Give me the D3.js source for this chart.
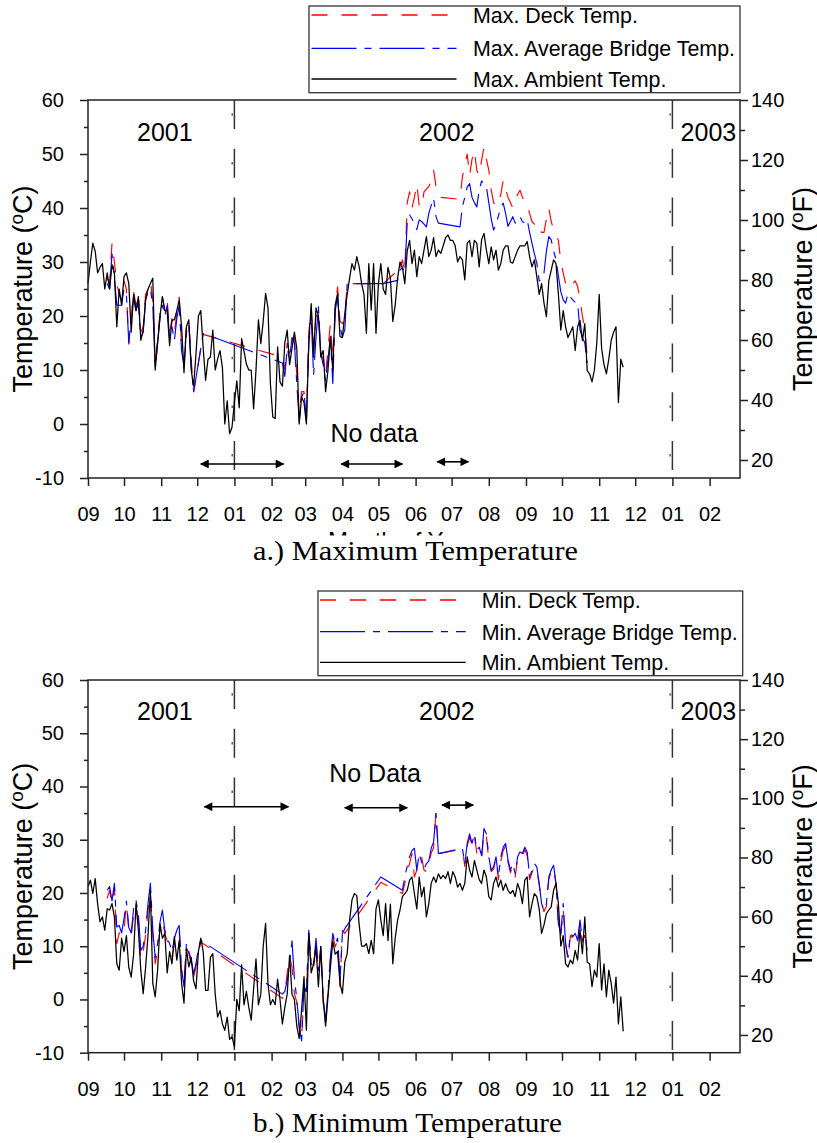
<!DOCTYPE html>
<html>
<head>
<meta charset="utf-8">
<script src="https://cdn.jsdelivr.net/npm/d3@7"></script>
<style>
  html, body { margin: 0; padding: 0; background: #fff; }
  svg { display: block; }
  .tick text { font-family: "Liberation Sans", Arial, sans-serif; font-size: 20px; fill: #000; }
  .tick line { stroke: #222; stroke-width: 1.5; }
  .label { font-family: "Liberation Sans", Arial, sans-serif; fill: #000; }
  .caption { font-family: "Liberation Serif", "Times New Roman", serif; fill: #000; }
</style>
</head>
<body>
<div id="chart"></div>
<script>
// --- 1. Data (one reading every two days, starting 1 Sep 2001) ---
const startDate = new Date(2001, 8, 1);
const stepDays = 2;

// a.) daily maximum temperatures, degC
const maxAmbient = [
  26, 30, 33.5, 32, 28, 29, 29.7, 25, 28, 25,            // d0
  29.5, 28, 18, 25, 22, 27.3, 28, 26, 17, 24,            // d20
  21, 23.6, 15.5, 17.4, 23, 25, 26, 27, 10, 15,          // d40
  20, 23.6, 21, 21, 14.5, 19.3, 19.3, 21, 23, 18,        // d60
  9.5, 18, 19.3, 10, 7, 13, 20, 21, 14, 8.1,             // d80
  12, 12.4, 17.4, 10, 12, 13.6, 10.5, 0, 4.3, -1.8,      // d100
  -0.6, 4, 8, 3, 15.8, 13.5, 11.1, 10, 10, 2.8,          // d120
  10, 19.3, 14.9, 19, 24.2, 21.5, 7.5, 1.3, 1, 14.3,     // d140
  7.8, 7, 15, 17.4, 11, 14, 17, 14, 0, 5,                // d160
  4, 0, 15, 22.3, 12.4, 21.5, 20, 12.4, 13.6, 6,         // d180
  10, 16, 10, 22, 24.2, 16.2, 16, 20.5, 24, 27,          // d200
  29.7, 28.5, 31, 29.1, 26, 24, 16.8, 29.7, 21.1, 29.7,  // d220
  16.8, 26, 29.7, 25, 24, 29, 27, 19, 22, 27,            // d240
  30, 29, 26, 32, 34, 29.7, 32.2, 27.3, 31, 29.7,        // d260
  32.2, 34.7, 31, 32.2, 34.5, 31, 32.2, 31.6, 33, 34.5,  // d280
  35, 34, 34, 33, 30, 31, 30.4, 26.7, 33.5, 34,          // d300
  31, 34, 33.5, 29.1, 34.1, 35.3, 32.2, 29.7, 32.8, 30.4, // d320
  32.2, 28.5, 29.7, 32.2, 33, 33, 30, 29.8, 31, 32.2,    // d340
  33, 33, 33, 33.8, 31, 29.1, 30.4, 27.3, 24, 26,        // d360
  22.4, 19.9, 26.5, 28.5, 30.4, 29.7, 24, 17.4, 21, 18,  // d380
  16, 17, 18, 13.6, 18, 19.2, 15.5, 18.6, 9.9, 9.3,      // d400
  7.8, 10, 15, 24, 14, 11, 9.3, 12, 15.5, 17,            // d420
  18, 4, 12, 10.5                                        // d440
];
const maxDeck = [
  null, null, null, null, null, null, null, null, 27, 26,
  33.5, 30, 26, 24, 23, 26.5, 25, 14.8, 20, 24.5,
  22, 24, 17, 18, 24, 25, 26.5, 23, 10.5, 16,
  20.5, 23.5, 21, 23, 17, 19.5, 17, 20.5, 23.5, 14,
  11, 18.5, 19, 12, 6, null, null, null, 16.6, null,
  null, null, null, null, null, null, null, null, null, null,
  null, null, null, null, null, null, null, null, null, null,
  null, null, null, null, null, null, null, null, null, null,
  null, 12.4, 10, 15, 13, 15.5, 16, 9, 2, 6,
  6, 1, 17, 21.5, 14, 20, 21, 13, 12, 9,
  14, 18.6, 12, 21.5, 25.4, 19, 18.6, 20, 26, null,
  null, null, null, null, null, null, null, null, null, null,
  null, null, null, 26, null, null, null, null, 28, 27.3,
  29, 30.4, 28, 41, 43, 40, 42, 44.5, 40.5, 40,
  43, 43.5, 44, 45, 47, 44, 42, null, null, null,
  null, null, null, null, null, 41.6, 45.8, 48, 50, 46,
  49, 50.7, 47, 46, 48.8, 51.3, 49, 47, 43.3, 41,
  40.2, 41, 42.5, 45.2, 43.5, 42, 41, 40, 41.5, 42.5,
  43.3, 42, 41, 41, 39, 37.5, 37, 37.5, 36, 35.5,
  35.5, 38, 40, 37.5, 36, 35, 34, 30, 28, 26,
  27, 26.7, 26, 26.5, 25.5, 23, 20, 17.4, 12.5
];
const maxBridge = [
  null, null, null, null, null, null, null, null, 26, 25,
  31.5, 27, 22, 22, 22, 25, 24, 15, 20, 23.5,
  21, 22.5, 16, 17, 23, 24.5, 25, 22, 10.5, 15,
  19.5, 22, 20, 22, 16, 18, 15.5, 19.5, 22, 13.5,
  11, 17, 18.5, 11, 5.8, null, null, null, 16.8, null,
  null, null, null, null, null, null, null, null, null, null,
  null, null, null, null, null, null, null, null, null, null,
  null, null, null, null, null, null, null, null, null, null,
  null, 11.3, 8.8, 14, 12, 16, 15, 7.5, 0.5, 5,
  6, 0.5, 15, 20, 9, 16, 21.7, 13, 11, 8,
  12, 16.2, 7.5, 21, 23.6, 18, 16.2, 17.4, 26, null,
  null, null, null, null, null, null, null, null, null, null,
  null, null, null, 26, null, null, null, null, null, 26.6,
  28.5, 29, 28, 37.2, 38.7, 38, 37, 36, 37.8, 37.5,
  37, 36.5, 39, 40.5, 41.8, 38.4, 37.2, null, null, null,
  null, null, null, null, null, 36.5, 40.2, 42, 43.9, 44.5,
  42, 41, 40.2, 43.3, 45, 44.5, 43.9, 41, 38, 35.9,
  37, 38.5, 40.2, 40.9, 39, 36.6, 37.5, 38.4, 37.2, 38,
  38.4, 37.5, 37.2, 37.8, 35.5, 33.5, 31.5, 29.8, 26.5, 26.8,
  28, 32, 34.7, 34.1, 32, 30.5, 27.4, 24.5, 23, 22.4,
  24.2, 23.5, 23, 22.5, 22.4, 17.4, 16, 15, 11.3
];

// b.) daily minimum temperatures, degC
const minAmbient = [
  21.2, 22.4, 19.9, 22.7, 18, 14.6, 15.5, 13, 17, 16.8,
  18, 15.5, 6.7, 5.5, 11.5, 9, 12, 6, 4.2, 8.5,
  18, 13, 5.5, 1.1, 6, 12, 20.5, 3, 0.5, 5.5,
  14.2, 11.5, 12.4, 5, 9, 6.7, 11.8, 7.4, 11.1, 3,
  -0.7, 9.5, 6.1, 7.9, 3.5, 2, 9, 11.5, 9, 1.7,
  1.7, 7.9, 8.6, 1, -3.3, -2.1, -4.6, -5.8, -3.3, -7.5,
  -7, -8.9, 0, -2.1, 6.5, -1, 1.5, -1.5, -3.9, 2,
  7.6, -1, 1, 10, 14.3, 3, -1, 0, -1, 3.8,
  0, -4.6, -1.5, 1, 8.3, 1, 0, -5, -7.3, -2,
  4.3, -5.8, 12.4, 5, 6.7, 9.9, 2.4, 9.9, 0, -5,
  0.5, 6, 11, 8.5, 9, 3, 1.1, 7, 8.6, 14.9,
  18.7, 19.9, 19.5, 14, 10, 10, 10.5, 8.6, 11.1, 8.6,
  17, 18.7, 15, 12, 18, 11.1, 17.9, 6.7, 11.5, 14.9,
  16.8, 19.3, 19.9, 20.5, 22.4, 23, 19.9, 17, 23, 19.3,
  21.1, 15.5, 18, 21.8, 23, 22, 23.6, 22.7, 23.3, 22.7,
  24, 21.8, 24, 23, 21.1, 21.8, 20.5, 21.8, 26.8, 24.3,
  23, 26.1, 24.3, 22.5, 21.8, 24.3, 23, 19.3, 18.7, 21.8,
  23, 21.1, 22.4, 20.5, 21.8, 20.5, 19.9, 20.5, 19.3, 21.8,
  20.5, 18, 22.4, 23, 15.5, 18, 19.9, 19.3, 17, 12.4,
  14, 16.1, 16.8, 17.4, 20.5, 21.8, 18, 10, 12, 6.7,
  6.1, 7.4, 6.7, 9.2, 7.4, 13, 8.6, 15.5, 7, 6.7,
  2.4, 5.5, 4.2, 10.5, 1.8, 6.7, 0.5, 5.5, 3, -0.7,
  4.2, -4.6, 0.5, -6
];
const minDeck = [
  null, null, null, null, null, null, null, null, 19, 20.5,
  18, 21, 10.5, 12.5, 11.8, 13, 18, 13, 11.8, 16,
  17.4, 15, 7.4, 9, 12, 16.8, 19.9, 12, 6.7, 9.2,
  13, 15, 12.4, 11, 9.9, 8, 10.5, 11.8, 13, 5.5,
  3, 9.8, 8.6, 6.7, 4.2, 6.1, 8.6, 10.8, null, null,
  null, null, null, null, null, null, null, null, null, null,
  null, null, null, null, null, null, null, null, null, null,
  null, null, null, null, null, null, null, null, null, null,
  null, 0.2, 1.1, 5, 8, 6.1, 1.1, -0.5, -5.5, -7.6,
  2, 1.1, 12.4, 6.1, 5.5, 11, 4.9, 9.2, -0.7, -4.4,
  1.1, 7.4, 12, 9.9, 11.1, 2.4, 13, 12.4, null, null,
  null, null, null, null, null, null, null, null, null, null,
  null, null, 22, null, null, null, null, null, null, null,
  null, 19.9, 21.8, 24, 25.5, 27.4, 23, 24.3, 26.5, 26.8,
  24.3, 24, 25.5, 27.5, 28.5, 35.2, 27.4, null, null, null,
  null, null, null, null, null, null, 28.2, 25, 28.8, 30.5,
  29, 30.8, 27.5, 28, 26.5, 31.5, 30.6, 26.2, 24, 24.5,
  26.5, 22.5, 26, 28, 28.8, 25.8, 23.8, 25, 23, 26.5,
  27.2, 26.8, 28.2, 27, 22.5, 23.8, 25, 24.5, 21.5, 18,
  16.5, 17.5, 22.5, 24, 24.8, 21.5, 14, 12, 17, 10.5,
  7.5, 12, 11.5, 12, 10.8, 14.5, 10.8, 12, 9
];
const minBridge = [
  null, null, null, null, null, null, null, null, 20.5, 21.2,
  18.5, 21.8, 13.6, 13.9, 12.5, 15.2, 18.5, 13.5, 12.5, 17,
  18.6, 16, 9.2, 10, 13, 18, 21.8, 13, 7.9, 10.5,
  14.5, 16.8, 13, 11.5, 10.5, 9, 11.5, 13, 13.9, 5.5,
  2.4, 10.5, 9, 7.5, 4.8, 6.8, 9.5, 11.1, null, null,
  null, null, null, null, null, null, null, null, null, null,
  null, null, null, null, null, null, null, null, null, null,
  null, null, null, null, null, null, null, null, null, null,
  null, 1.0, 1.5, 3.6, 6.7, 11, 4, 0, -5, -7.8,
  2.5, 1.5, 13, 6.8, 6, 11.5, 5.5, 10, 0, -4,
  1.5, 8, 12.4, 10.4, 11.5, 3.6, 12.4, 13.3, null, null,
  null, null, null, null, null, null, null, null, null, null,
  null, null, 23, null, null, null, null, null, null, null,
  null, 20.5, 23, 25, 26.8, 28, 28.4, 24.3, 27.4, 25.8,
  24.5, 25.5, 26, 28.4, 29.6, 34.9, 27.4, null, null, null,
  null, null, null, null, null, null, 28.4, 25.5, 29.3, 31.1,
  29.3, 31.1, 28, 28.6, 27, 32.1, 31.1, 26.8, 24.3, 24.9,
  26.8, 23, 26.8, 28.6, 29.3, 26.2, 24.3, 25.5, 23.6, 26.8,
  27.7, 27.4, 28.6, 27.7, 23, 24.3, 25.5, 24.9, 21.8, 18,
  16.8, 18, 23, 24.3, 25.2, 21.8, 14.2, 12.4, 18, 10.5,
  7.9, 12.4, 11.8, 12.4, 11.1, 14.9, 11.1, 12.4, 9.2
];

// axis ticks
const celsiusMajor = [-10, 0, 10, 20, 30, 40, 50, 60];
const celsiusMinor = [-5, 5, 15, 25, 35, 45, 55];
const fahrenMajor = [20, 40, 60, 80, 100, 120, 140];
const fahrenMinor = [30, 50, 70, 90, 110, 130];
const monthTicks = d3.timeMonth.range(new Date(2001, 8, 1), new Date(2003, 1, 2));

// annotations
const yearLines = ["2002-01-01", "2003-01-01"];
const yearLabels = [["2001", "2001-11-04"], ["2002", "2002-06-27"], ["2003", "2003-01-31"]];
const maxGapArrows = [["2001-12-04", "2002-02-11", -7.4], ["2002-03-31", "2002-05-21", -7.4], ["2002-06-19", "2002-07-15", -7]];
const minGapArrows = [["2001-12-07", "2002-02-15", 36.2], ["2002-04-03", "2002-05-25", 36], ["2002-06-23", "2002-07-19", 36.5]];
const maxLegend = ["Max. Deck Temp.", "Max. Average Bridge Temp.", "Max. Ambient Temp."];
const minLegend = ["Min. Deck Temp.", "Min. Average Bridge Temp.", "Min. Ambient Temp."];

// --- 2. Setup ---
const colors = { deck: "#ff0000", bridge: "#0000ff", ambient: "#000000", axis: "#222" };
const dashes = { deck: "16,14", bridge: "45,8,7,8", ambient: null };
const parse = d3.timeParse("%Y-%m-%d");
const plain = d => String(d); // keep the hyphen-minus of the original ("-10")

const width = 817, height = 1143;
const left = 88, right = 740;
const endDate = d3.timeHour.offset(startDate, 13040);

const svg = d3.select("#chart").append("svg")
  .attr("width", width).attr("height", height);

const x = d3.scaleTime().domain([startDate, endDate]).range([left, right]);

function toPoints(values) {
  return values
    .map((v, i) => ({ date: d3.timeDay.offset(startDate, i * stepDays), value: v }))
    .filter(d => d.value !== null);
}

svg.append("defs").append("marker")
  .attr("id", "head").attr("viewBox", "0 0 10 10")
  .attr("refX", 9).attr("refY", 5)
  .attr("markerWidth", 6.5).attr("markerHeight", 5.5)
  .attr("markerUnits", "strokeWidth")
  .attr("orient", "auto-start-reverse")
  .append("path").attr("d", "M0,0 L10,5 L0,10 Z").attr("fill", "#000");

// --- 3. Panels ---
function drawPanel(p) {
  const g = svg.append("g");
  const y = d3.scaleLinear().domain([-10, 60]).range([p.bottom, p.top]);
  const yF = d3.scaleLinear().domain([14, 140]).range([p.bottom, p.top]);

  // legend
  const lg = g.append("g");
  lg.append("rect")
    .attr("x", p.legend.x0).attr("y", p.legend.y0)
    .attr("width", p.legend.x1 - p.legend.x0).attr("height", p.legend.y1 - p.legend.y0)
    .attr("fill", "none").attr("stroke", "#333").attr("stroke-width", 1.3);
  ["deck", "bridge", "ambient"].forEach((k, i) => {
    lg.append("line")
      .attr("x1", p.legend.lx0).attr("x2", p.legend.lx1)
      .attr("y1", p.legend.rows[i]).attr("y2", p.legend.rows[i])
      .attr("stroke", colors[k]).attr("stroke-width", 1.3)
      .attr("stroke-dasharray", dashes[k]);
    lg.append("text").attr("class", "label")
      .attr("x", p.legend.tx).attr("y", p.legend.rows[i] + 7.8)
      .style("font-size", "21.4px")
      .text(p.labels[i]);
  });

  // year separators
  yearLines.forEach(s => {
    const xv = x(parse(s));
    g.append("line").attr("x1", xv).attr("x2", xv).attr("y1", p.top).attr("y2", p.bottom)
      .attr("stroke", "#333").attr("stroke-width", 1.5).attr("stroke-dasharray", "29,19.7");
    g.append("line").attr("x1", xv - 2.2).attr("x2", xv - 2.2).attr("y1", p.top).attr("y2", p.bottom)
      .attr("stroke", "#555").attr("stroke-width", 1.4)
      .attr("stroke-dasharray", "2.5,46.2").attr("stroke-dashoffset", -13.2);
  });

  // series
  const line = d3.line().x(d => x(d.date)).y(d => y(d.value));
  const series = [["deck", p.deck], ["bridge", p.bridge], ["ambient", p.ambient]];
  series.forEach(([k, vals]) => {
    g.append("path")
      .datum(toPoints(vals))
      .attr("d", line)
      .attr("fill", "none")
      .attr("stroke", colors[k])
      .attr("stroke-width", k === "ambient" ? 1.25 : 1.15)
      .attr("stroke-linejoin", "round")
      .attr("stroke-dasharray", dashes[k]);
  });

  // frame
  g.append("rect").attr("x", left).attr("y", p.top)
    .attr("width", right - left).attr("height", p.bottom - p.top)
    .attr("fill", "none").attr("stroke", colors.axis).attr("stroke-width", 1.5);

  // axes
  const clean = a => a.select(".domain").remove();
  g.append("g").attr("transform", `translate(${left},0)`)
    .call(d3.axisLeft(y).tickValues(celsiusMajor).tickSize(8).tickPadding(16).tickFormat(plain))
    .call(clean);
  g.append("g").attr("transform", `translate(${left},0)`)
    .call(d3.axisLeft(y).tickValues(celsiusMinor).tickSize(4).tickFormat(""))
    .call(clean);
  g.append("g").attr("transform", `translate(${right},0)`)
    .call(d3.axisRight(yF).tickValues(fahrenMajor).tickSize(8).tickPadding(3).tickFormat(plain))
    .call(clean);
  g.append("g").attr("transform", `translate(${right},0)`)
    .call(d3.axisRight(yF).tickValues(fahrenMinor).tickSize(5).tickFormat(""))
    .call(clean);
  g.append("g").attr("transform", `translate(0,${p.bottom})`)
    .call(d3.axisBottom(x).tickValues(monthTicks).tickSize(8).tickPadding(21)
      .tickFormat(d3.timeFormat("%m")))
    .call(clean);

  // axis titles
  const cy = (p.top + p.bottom) / 2;
  [["C", 31.7], ["F", 811.7]].forEach(([unit, bx]) => {
    const t = g.append("text").attr("class", "label")
      .attr("transform", `translate(${bx},${cy}) rotate(-90)`)
      .attr("text-anchor", "middle").style("font-size", "27px");
    t.append("tspan").text("Temperature (");
    t.append("tspan").attr("dy", -9).style("font-size", "19px").text("o");
    t.append("tspan").attr("dy", 9).text(unit + ")");
  });

  // year labels
  yearLabels.forEach(([txt, s]) => {
    g.append("text").attr("class", "label")
      .attr("x", x(parse(s))).attr("y", y(52.4))
      .attr("text-anchor", "middle").style("font-size", "25px")
      .text(txt);
  });

  // no-data arrows
  p.arrows.forEach(([s, e, v]) => {
    g.append("line")
      .attr("x1", x(parse(s))).attr("x2", x(parse(e)))
      .attr("y1", y(v)).attr("y2", y(v))
      .attr("stroke", "#000").attr("stroke-width", 1.6)
      .attr("marker-start", "url(#head)").attr("marker-end", "url(#head)");
  });
  g.append("text").attr("class", "label")
    .attr("x", x(parse(p.noData[1]))).attr("y", y(p.noData[2]))
    .style("font-size", "25px")
    .text(p.noData[0]);
}

drawPanel({
  top: 100, bottom: 478,
  ambient: maxAmbient, deck: maxDeck, bridge: maxBridge,
  labels: maxLegend, arrows: maxGapArrows,
  noData: ["No data", "2002-03-22", -3.3],
  legend: { x0: 309, y0: 6, x1: 740, y1: 92.7, lx0: 311.5, lx1: 456.5, tx: 473, rows: [15, 48.3, 79] }
});

// x-axis title of the top panel, mostly hidden behind the caption band
svg.append("text").attr("class", "label")
  .attr("x", 328).attr("y", 549).style("font-size", "24px")
  .text("Month of Year");
svg.append("rect").attr("x", 0).attr("y", 535.5).attr("width", width).attr("height", 54)
  .attr("fill", "#fff");

drawPanel({
  top: 680, bottom: 1052.7,
  ambient: minAmbient, deck: minDeck, bridge: minBridge,
  labels: minLegend, arrows: minGapArrows,
  noData: ["No Data", "2002-03-21", 40.9],
  legend: { x0: 318, y0: 591, x1: 742.7, y1: 675.7, lx0: 320, lx1: 465.7, tx: 481.7, rows: [600, 631.7, 662.3] }
});

// --- 4. Captions ---
svg.append("text").attr("class", "caption")
  .attr("x", 253).attr("y", 560).style("font-size", "27px")
  .attr("textLength", 325).attr("lengthAdjust", "spacingAndGlyphs")
  .text("a.) Maximum Temperature");
svg.append("text").attr("class", "caption")
  .attr("x", 253).attr("y", 1132).style("font-size", "27px")
  .attr("textLength", 309).attr("lengthAdjust", "spacingAndGlyphs")
  .text("b.) Minimum Temperature");
</script>
</body>
</html>
